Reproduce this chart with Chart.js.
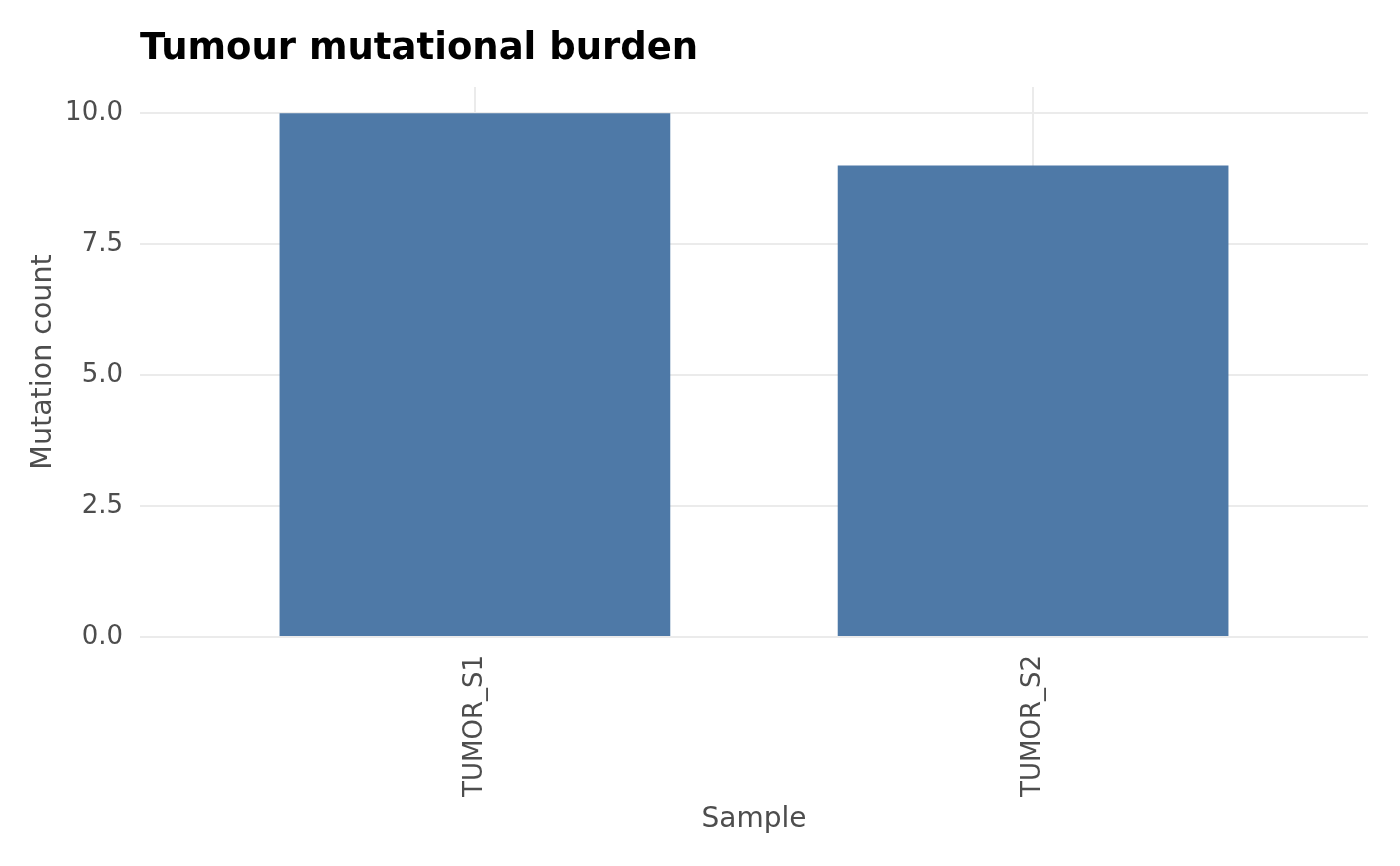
<!DOCTYPE html>
<html>
<head>
<meta charset="utf-8">
<title>Tumour mutational burden</title>
<script src="https://cdn.jsdelivr.net/npm/chart.js@4.4.1/dist/chart.umd.min.js"></script>
<style>
	html, body { margin: 0; padding: 0; background: #ffffff; }
	#wrap { width: 1400px; height: 866px; }
</style>
</head>
<body>
<div id="wrap"><canvas id="tmb-chart" width="1400" height="866"></canvas></div>
<script>
// data
const samples = ["TUMOR_S1", "TUMOR_S2"];
const mutationCounts = [10, 9];
const yTicks = [0, 2.5, 5, 7.5, 10];

const chartTitle = "Tumour mutational burden";
const FONT = "'DejaVu Sans', 'Noto Sans', sans-serif";
const TEXT_GREY = "#4d4d4d";
const GRID_GREY = "#ebebeb";

// title drawn flush with the plot panel, like ggplot does it
const leftTitle = {
	id: "leftTitle",
	afterDraw(chart) {
		const { ctx, chartArea } = chart;
		ctx.save();
		ctx.font = "bold 37px " + FONT;
		ctx.fillStyle = "#000000";
		ctx.textAlign = "left";
		ctx.textBaseline = "alphabetic";
		ctx.fillText(chartTitle, chartArea.left, 59);
		ctx.restore();
	},
};

const ctx = document.getElementById("tmb-chart").getContext("2d");

new Chart(ctx, {
	type: "bar",
	data: {
		datasets: [
			{
				label: "Mutation count",
				data: samples.map((s, i) => ({ x: i, y: mutationCounts[i] })),
				backgroundColor: "#4e79a7",
				barPercentage: 0.7,
				categoryPercentage: 1.0,
			},
		],
	},
	options: {
		responsive: false,
		animation: false,
		devicePixelRatio: 1,
		layout: { padding: { top: 87, right: 32, left: 0, bottom: 0 } },
		plugins: {
			legend: { display: false },
			title: { display: false },
			tooltip: { enabled: false },
		},
		scales: {
			x: {
				type: "linear",
				min: -0.6,
				max: 1.6,
				offset: false,
				afterFit: (scale) => {
					scale.height = 229;
				},
				afterBuildTicks: (scale) => {
					scale.ticks = samples.map((s, i) => ({ value: i }));
				},
				border: { display: false },
				grid: { color: GRID_GREY, lineWidth: 2, drawTicks: false, offset: false },
				ticks: {
					minRotation: 90,
					maxRotation: 90,
					padding: 18,
					color: TEXT_GREY,
					font: { family: FONT, size: 26 },
					callback: (value) => samples[value] ?? "",
				},
				title: {
					display: true,
					text: "Sample",
					color: TEXT_GREY,
					font: { family: FONT, size: 28 },
					padding: { top: 0, bottom: 29 },
				},
			},
			y: {
				min: 0,
				max: 10.5,
				afterFit: (scale) => {
					scale.width = 140;
				},
				afterBuildTicks: (scale) => {
					scale.ticks = yTicks.map((v) => ({ value: v }));
				},
				border: { display: false },
				grid: { color: GRID_GREY, lineWidth: 2, drawTicks: false },
				ticks: {
					padding: 17,
					color: TEXT_GREY,
					font: { family: FONT, size: 26 },
					callback: (value) => value.toFixed(1),
				},
				title: {
					display: true,
					text: "Mutation count",
					color: TEXT_GREY,
					font: { family: FONT, size: 28.5 },
					padding: { top: 26, bottom: 0 },
				},
			},
		},
	},
	plugins: [leftTitle],
});
</script>
</body>
</html>
